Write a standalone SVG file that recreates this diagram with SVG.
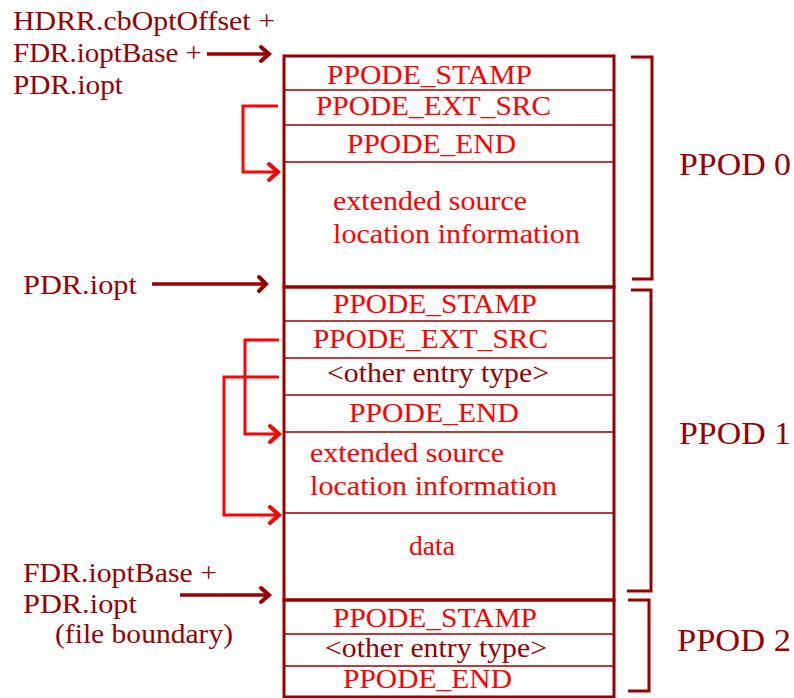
<svg xmlns="http://www.w3.org/2000/svg" width="794" height="698" viewBox="0 0 794 698">
<style>
.lbl{font-family:"Liberation Serif","Times New Roman",serif;font-size:27px;fill:#990000}
.ppod{font-family:"Liberation Serif","Times New Roman",serif;font-size:32px;fill:#990000}
.rt{font-family:"Liberation Serif","Times New Roman",serif;font-size:28px;fill:#ff0000}
.dt{font-family:"Liberation Serif","Times New Roman",serif;font-size:28px;fill:#990000}
.border{fill:none;stroke:#990000;stroke-width:3}
.div{stroke:#990000;stroke-width:1.5}
.thick{stroke:#990000;stroke-width:3}
.br{fill:none;stroke:#990000;stroke-width:3}
.dk{fill:none;stroke:#990000;stroke-width:3.5}
.rd{fill:none;stroke:#ff0000;stroke-width:3}
.ahd{fill:none;stroke:#990000;stroke-width:4;stroke-linecap:round;stroke-linejoin:miter}
.ahr{fill:none;stroke:#ff0000;stroke-width:4;stroke-linecap:round;stroke-linejoin:miter}
</style>
<rect width="794" height="698" fill="#ffffff"/>

<g id="labels">
<text class="lbl" x="13" y="30" textLength="262" lengthAdjust="spacingAndGlyphs">HDRR.cbOptOffset +</text>
<text class="lbl" x="13" y="62" textLength="189" lengthAdjust="spacingAndGlyphs">FDR.ioptBase +</text>
<text class="lbl" x="13" y="94" textLength="110" lengthAdjust="spacingAndGlyphs">PDR.iopt</text>
<text class="lbl" x="23" y="294" textLength="114" lengthAdjust="spacingAndGlyphs">PDR.iopt</text>
<text class="lbl" x="23" y="582" textLength="194" lengthAdjust="spacingAndGlyphs">FDR.ioptBase +</text>
<text class="lbl" x="23" y="613" textLength="114" lengthAdjust="spacingAndGlyphs">PDR.iopt</text>
<text class="lbl" x="55" y="643" textLength="178" lengthAdjust="spacingAndGlyphs">(file boundary)</text>
</g>

<g id="ppod0">
<rect class="border" x="284" y="56" width="330" height="231"/>
<line class="div" x1="284" y1="90" x2="614" y2="90"/>
<line class="div" x1="284" y1="125" x2="614" y2="125"/>
<line class="div" x1="284" y1="162" x2="614" y2="162"/>
<text class="rt" x="327" y="84" textLength="205" lengthAdjust="spacingAndGlyphs">PPODE_STAMP</text>
<text class="rt" x="316" y="115" textLength="235" lengthAdjust="spacingAndGlyphs">PPODE_EXT_SRC</text>
<text class="rt" x="347" y="153" textLength="169" lengthAdjust="spacingAndGlyphs">PPODE_END</text>
<text class="rt" x="333" y="210" textLength="194" lengthAdjust="spacingAndGlyphs">extended source</text>
<text class="rt" x="333" y="243" textLength="247" lengthAdjust="spacingAndGlyphs">location information</text>
<polyline class="br" points="631,57 652,57 652,279 632,279"/>
<text class="ppod" x="679" y="175" textLength="112" lengthAdjust="spacingAndGlyphs">PPOD 0</text>
</g>

<g id="ppod1">
<rect class="border" x="284" y="287" width="330" height="313"/>
<line class="div" x1="284" y1="321" x2="614" y2="321"/>
<line class="div" x1="284" y1="358" x2="614" y2="358"/>
<line class="div" x1="284" y1="395" x2="614" y2="395"/>
<line class="div" x1="284" y1="432" x2="614" y2="432"/>
<line class="div" x1="284" y1="513" x2="614" y2="513"/>
<text class="rt" x="333" y="313" textLength="204" lengthAdjust="spacingAndGlyphs">PPODE_STAMP</text>
<text class="rt" x="313" y="348" textLength="235" lengthAdjust="spacingAndGlyphs">PPODE_EXT_SRC</text>
<text class="dt" x="327" y="382" textLength="222" lengthAdjust="spacingAndGlyphs">&lt;other entry type&gt;</text>
<text class="rt" x="349" y="422" textLength="170" lengthAdjust="spacingAndGlyphs">PPODE_END</text>
<text class="rt" x="310" y="462" textLength="194" lengthAdjust="spacingAndGlyphs">extended source</text>
<text class="rt" x="310" y="495" textLength="247" lengthAdjust="spacingAndGlyphs">location information</text>
<text class="rt" x="409" y="555" textLength="46" lengthAdjust="spacingAndGlyphs">data</text>
<polyline class="br" points="631,290 651,290 651,591 627,591"/>
<text class="ppod" x="679" y="444" textLength="112" lengthAdjust="spacingAndGlyphs">PPOD 1</text>
</g>

<g id="ppod2">
<rect class="border" x="284" y="600" width="330" height="97"/>
<line class="div" x1="284" y1="634" x2="614" y2="634"/>
<line class="div" x1="284" y1="666" x2="614" y2="666"/>
<text class="rt" x="333" y="627" textLength="204" lengthAdjust="spacingAndGlyphs">PPODE_STAMP</text>
<text class="dt" x="325" y="657" textLength="222" lengthAdjust="spacingAndGlyphs">&lt;other entry type&gt;</text>
<text class="rt" x="343" y="688" textLength="169" lengthAdjust="spacingAndGlyphs">PPODE_END</text>
<polyline class="br" points="628,600 649,600 649,691 628,691"/>
<text class="ppod" x="677" y="651" textLength="114" lengthAdjust="spacingAndGlyphs">PPOD 2</text>
</g>

<g id="connectors">
<line class="dk" x1="207" y1="54" x2="268" y2="54"/>
<polyline class="ahd" points="261,47 269,54 261,61"/>
<line class="dk" x1="152" y1="284" x2="265" y2="284"/>
<polyline class="ahd" points="259,277 266,284 259,291"/>
<line class="dk" x1="180" y1="595" x2="268" y2="595"/>
<polyline class="ahd" points="261,588 269,595 261,602"/>

<polyline class="rd" points="278,106 243,106 243,172 276,172"/>
<polyline class="ahr" points="269,164 278,172 269,180"/>

<polyline class="rd" points="279,340 245,340 245,434 277,434"/>
<polyline class="ahr" points="270,426 279,434 270,442"/>
<polyline class="rd" points="279,377 224,377 224,515 277,515"/>
<polyline class="ahr" points="270,507 279,515 270,523"/>
</g>
</svg>
